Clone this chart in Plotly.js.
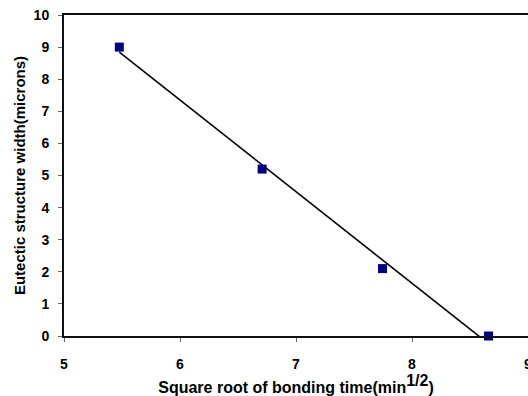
<!DOCTYPE html>
<html>
<head>
<meta charset="utf-8">
<script src="https://cdn.plot.ly/plotly-3.0.1.min.js"></script>
<style>html,body{margin:0;padding:0;background:#fff;}#chart{width:528px;height:396px;}</style>
</head>
<body>
<div id="chart"></div>
<script>
// Data
const sqrtTime = [5.477, 6.708, 7.746, 8.660];
const eutecticWidth = [9.0, 5.2, 2.1, 0.0];
const xTicks = [5, 6, 7, 8, 9];
const yTicks = [0, 1, 2, 3, 4, 5, 6, 7, 8, 9, 10];

// Linear least-squares trendline over the data range
const n = sqrtTime.length;
const mx = sqrtTime.reduce((a, b) => a + b, 0) / n;
const my = eutecticWidth.reduce((a, b) => a + b, 0) / n;
let sxy = 0, sxx = 0;
for (let i = 0; i < n; i++) {
  sxy += (sqrtTime[i] - mx) * (eutecticWidth[i] - my);
  sxx += (sqrtTime[i] - mx) ** 2;
}
const slope = sxy / sxx;
const intercept = my - slope * mx;
const xMin = Math.min(...sqrtTime), xMax = Math.max(...sqrtTime);
const trendX = [xMin, xMax];
const trendY = trendX.map(x => intercept + slope * x);

const font = {family: 'Arial, "Liberation Sans", sans-serif', color: '#000'};

const data = [
  {x: trendX, y: trendY, mode: 'lines', line: {color: '#000', width: 1.6}, hoverinfo: 'skip', showlegend: false},
  {x: sqrtTime, y: eutecticWidth, mode: 'markers', cliponaxis: false,
   marker: {symbol: 'square', size: 9, color: '#000080'}, showlegend: false}
];

const layout = {
  width: 528, height: 396,
  margin: {l: 64, r: 0, t: 15, b: 60},
  paper_bgcolor: '#fff', plot_bgcolor: '#fff',
  font: Object.assign({size: 13}, font),
  xaxis: {
    range: [5, 9], tickvals: xTicks, ticktext: xTicks.map(String),
    showgrid: false, zeroline: false,
    showline: true, linecolor: '#111', linewidth: 2, mirror: true,
    ticks: 'outside', ticklen: 4, tickwidth: 1, tickcolor: '#666',
    tickfont: Object.assign({size: 14, weight: 'bold'}, font),
    ticklabelstandoff: 10, ticklabeloverflow: 'allow',
    title: {text: 'Square root of bonding time(min<sup><span style="font-size:16px">1/2</span></sup>)', font: Object.assign({size: 16, weight: 'bold'}, font), standoff: 0}
  },
  yaxis: {
    range: [0, 10], tickvals: yTicks, ticktext: yTicks.map(String),
    showgrid: false, zeroline: false,
    showline: true, linecolor: '#111', linewidth: 2, mirror: true,
    ticks: 'outside', ticklen: 4, tickwidth: 1, tickcolor: '#666',
    tickfont: Object.assign({size: 14, weight: 'bold'}, font),
    ticklabelstandoff: 6,
    title: {text: 'Eutectic structure width(microns)', font: Object.assign({size: 15, weight: 'bold'}, font), standoff: 4}
  }
};

Plotly.newPlot('chart', data, layout, {staticPlot: true, displayModeBar: false});
</script>
</body>
</html>
